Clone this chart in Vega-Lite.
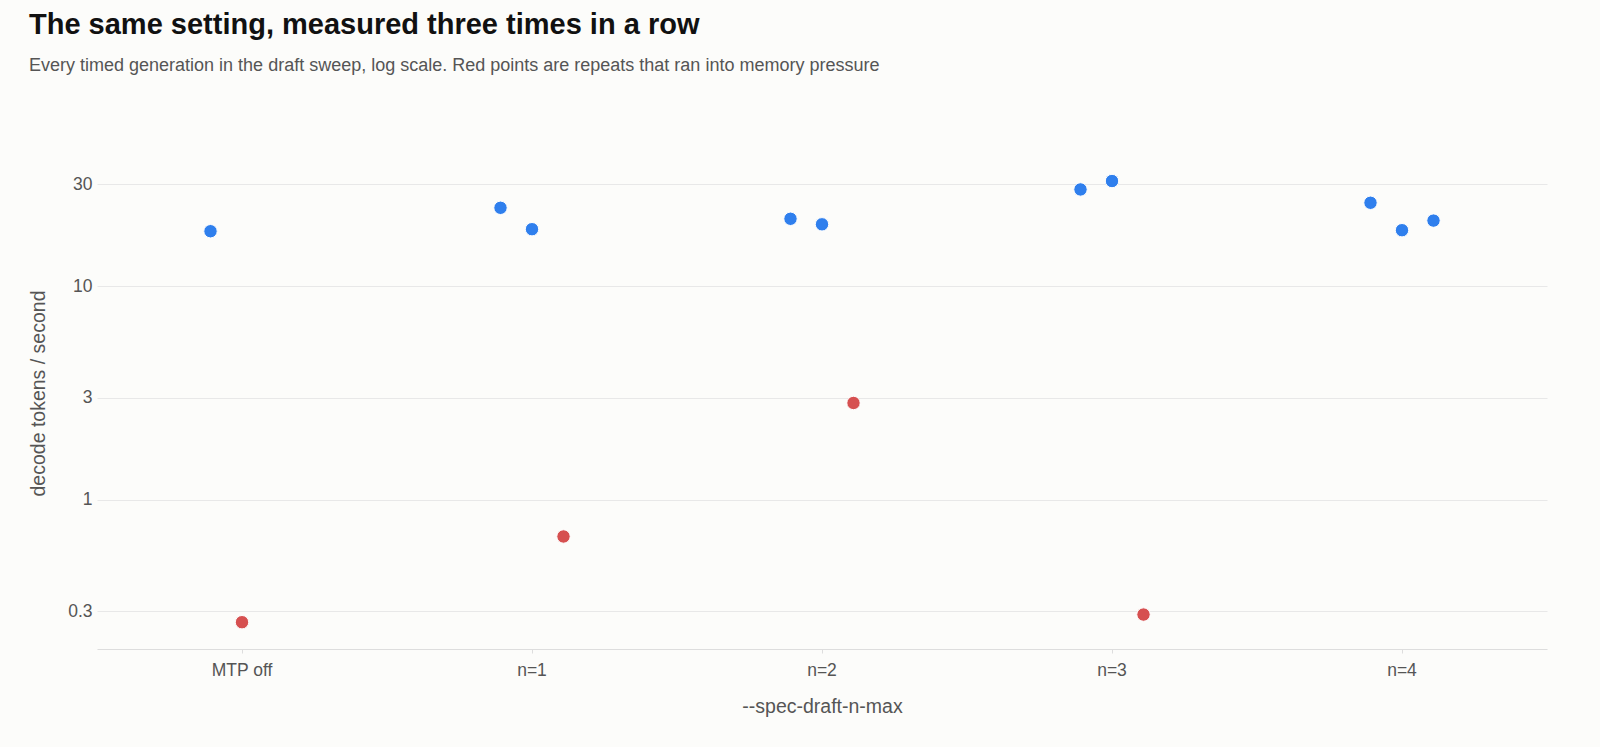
{
  "$schema": "https://vega.github.io/schema/vega-lite/v6.json",
  "autosize": "none",
  "width": 1450,
  "height": 512,
  "padding": {"left": 97, "top": 137, "right": 53, "bottom": 98},
  "background": "#fcfcfa",
  "title": {
    "text": "The same setting, measured three times in a row",
    "subtitle": "Every timed generation in the draft sweep, log scale. Red points are repeats that ran into memory pressure",
    "anchor": "start",
    "frame": "group",
    "dx": -68,
    "offset": 62,
    "font": "Liberation Sans",
    "fontSize": 29,
    "fontWeight": "bold",
    "color": "#111111",
    "subtitleFont": "Liberation Sans",
    "subtitleFontSize": 18,
    "subtitleColor": "#555555",
    "subtitlePadding": 17
  },
  "config": {
    "view": {"stroke": null},
    "axis": {
      "labelFont": "Liberation Sans",
      "titleFont": "Liberation Sans",
      "labelFontSize": 17.5,
      "titleFontSize": 19.5,
      "labelColor": "#555555",
      "titleColor": "#555555",
      "titleFontWeight": "normal"
    }
  },
  "data": {
    "values": [
      {"setting": "MTP off", "repeat": 1, "status": "ok", "tps": 18.1},
      {"setting": "MTP off", "repeat": 2, "status": "memory pressure", "tps": 0.267},
      {"setting": "n=1", "repeat": 1, "status": "ok", "tps": 23.3},
      {"setting": "n=1", "repeat": 2, "status": "ok", "tps": 18.5},
      {"setting": "n=1", "repeat": 3, "status": "memory pressure", "tps": 0.673},
      {"setting": "n=2", "repeat": 1, "status": "ok", "tps": 20.7},
      {"setting": "n=2", "repeat": 2, "status": "ok", "tps": 19.5},
      {"setting": "n=2", "repeat": 3, "status": "memory pressure", "tps": 2.84},
      {"setting": "n=3", "repeat": 1, "status": "ok", "tps": 28.4},
      {"setting": "n=3", "repeat": 2, "status": "ok", "tps": 31.1},
      {"setting": "n=3", "repeat": 3, "status": "memory pressure", "tps": 0.29},
      {"setting": "n=4", "repeat": 1, "status": "ok", "tps": 24.6},
      {"setting": "n=4", "repeat": 2, "status": "ok", "tps": 18.3},
      {"setting": "n=4", "repeat": 3, "status": "ok", "tps": 20.3}
    ]
  },
  "mark": {"type": "circle", "size": 180, "opacity": 1, "stroke": "#ffffff", "strokeWidth": 1},
  "encoding": {
    "x": {
      "field": "setting",
      "type": "nominal",
      "sort": ["MTP off", "n=1", "n=2", "n=3", "n=4"],
      "scale": {"type": "band", "paddingInner": 0, "paddingOuter": 0},
      "axis": {
        "title": "--spec-draft-n-max",
        "labelAngle": 0,
        "domainColor": "#dddddd",
        "tickColor": "#dddddd",
        "tickSize": 4,
        "labelPadding": 8,
        "titlePadding": 19,
        "grid": false
      }
    },
    "xOffset": {
      "field": "repeat",
      "type": "nominal",
      "scale": {"type": "point", "domain": [1, 2, 3], "range": [113.5, 176.5], "padding": 0}
    },
    "y": {
      "field": "tps",
      "type": "quantitative",
      "scale": {"type": "log", "domain": [0.2, 50], "nice": false},
      "axis": {
        "title": "decode tokens / second",
        "values": [0.3, 1, 3, 10, 30],
        "format": "~g",
        "domain": false,
        "ticks": false,
        "labelPadding": 5,
        "titlePadding": 19,
        "gridColor": "#e8e8e8"
      }
    },
    "color": {
      "field": "status",
      "type": "nominal",
      "scale": {"domain": ["ok", "memory pressure"], "range": ["#2f7fed", "#d65050"]},
      "legend": null
    }
  }
}
